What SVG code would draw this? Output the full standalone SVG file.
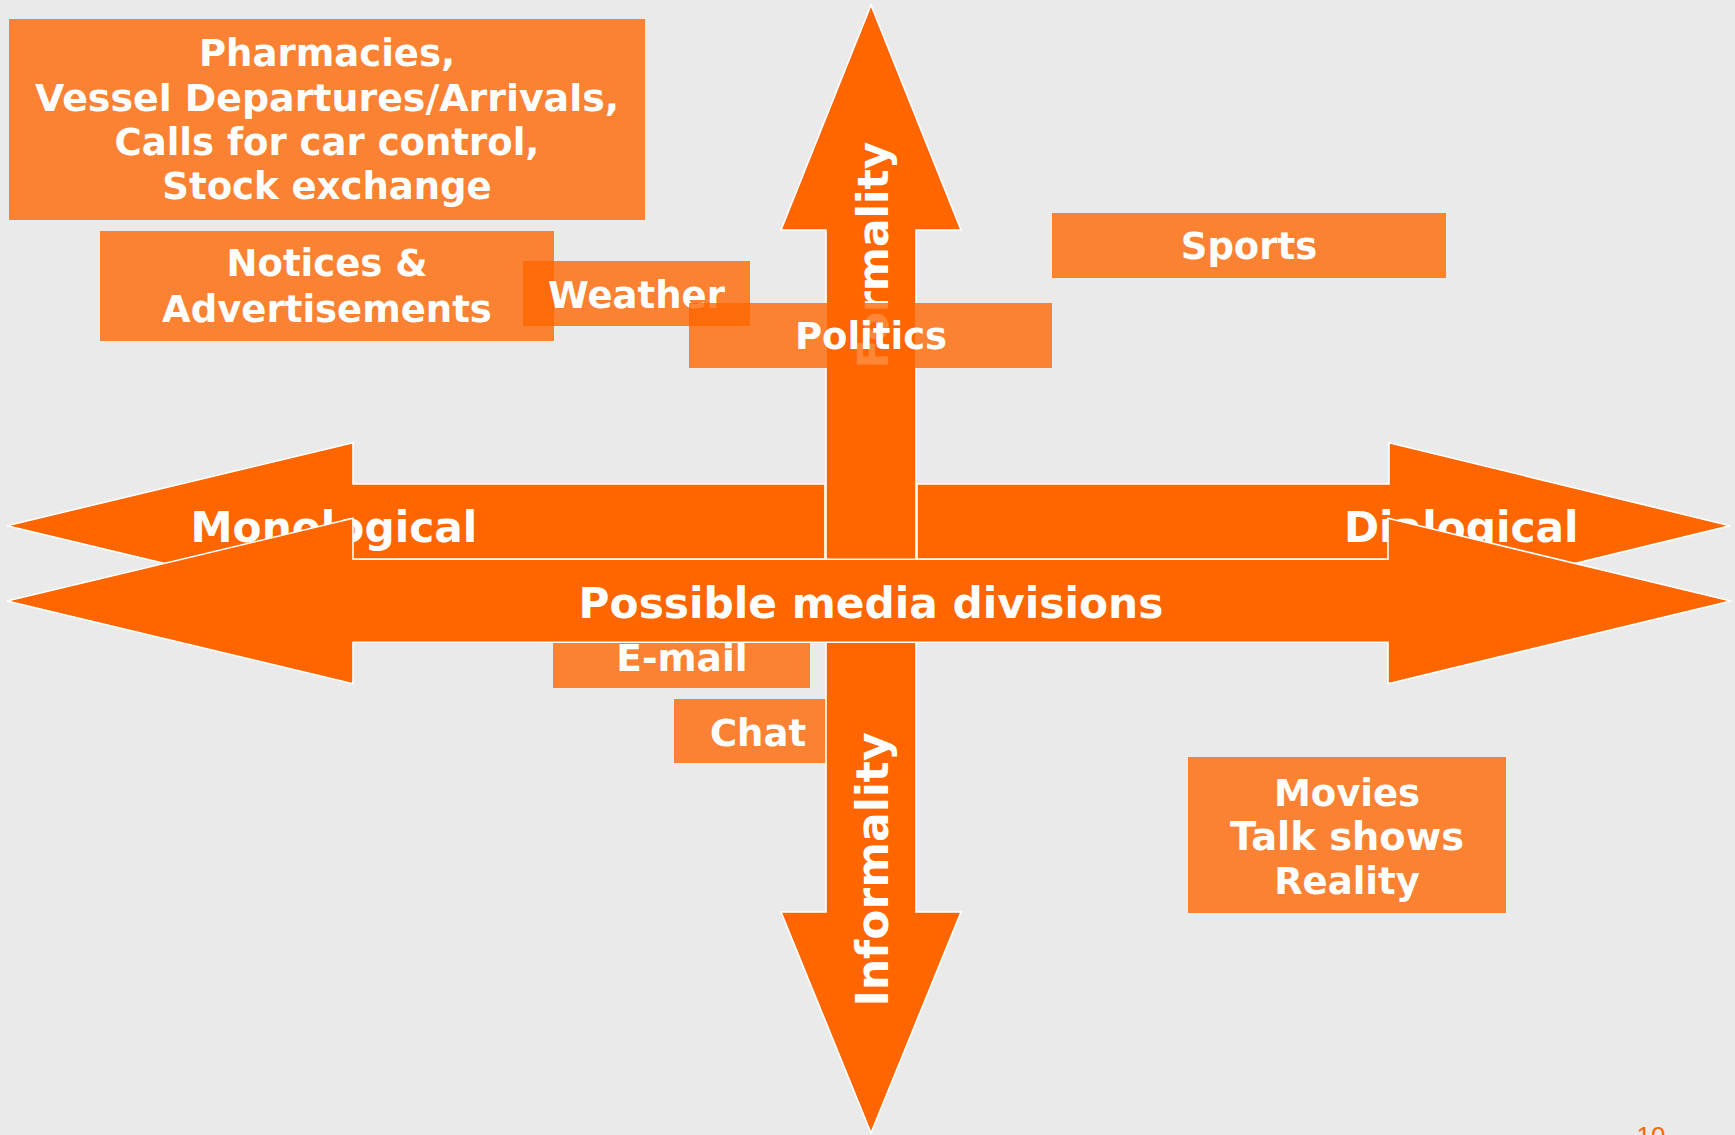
<svg xmlns="http://www.w3.org/2000/svg" width="1735" height="1135" viewBox="0 0 1735 1135">
<style>
.box{fill:#FF6600;fill-opacity:0.79}
.arrow{fill:#FF6600;stroke:#FFFFFF;stroke-width:1.6;stroke-linejoin:miter}
.t{font-family:"DejaVu Sans","Verdana",sans-serif;font-weight:bold;fill:#FFFFFF;text-anchor:middle;font-size:37px}
.big{font-size:42.3px}
.pg{font-family:"Liberation Sans",Arial,sans-serif;fill:#FF6600;font-size:26px;text-anchor:middle}
</style>
<rect x="0" y="0" width="1735" height="1135" fill="#EAEAEA"/>

<g id="node-pharmacies">
<rect class="box" x="9" y="19" width="636" height="201"/>
<text class="t" x="327" y="66">Pharmacies,</text>
<text class="t" x="327" y="110.5" style="font-size:37.9px">Vessel Departures/Arrivals,</text>
<text class="t" x="327" y="155">Calls for car control,</text>
<text class="t" x="327" y="199">Stock exchange</text>
</g>

<g id="node-notices">
<rect class="box" x="100" y="231" width="454" height="110"/>
<text class="t" x="327" y="276">Notices &amp;</text>
<text class="t" x="327" y="322">Advertisements</text>
</g>

<g id="node-weather">
<rect class="box" x="523" y="261" width="227" height="65"/>
<text class="t" x="636.5" y="308">Weather</text>
</g>

<g id="node-sports">
<rect class="box" x="1052" y="213" width="394" height="65"/>
<text class="t" x="1249" y="259">Sports</text>
</g>

<g id="node-email">
<rect class="box" x="553" y="630" width="257" height="58"/>
<text class="t" x="682" y="671" style="font-size:37.5px">E-mail</text>
</g>

<g id="node-chat">
<rect class="box" x="674" y="699" width="168" height="64"/>
<text class="t" x="758" y="746">Chat</text>
</g>

<g id="node-movies">
<rect class="box" x="1188" y="757" width="318" height="156"/>
<text class="t" x="1347" y="806">Movies</text>
<text class="t" x="1347" y="850" style="font-size:38.4px">Talk shows</text>
<text class="t" x="1347" y="894">Reality</text>
</g>

<g id="connectors">
<g id="arrow-monological">
<polygon class="arrow" points="7,525.7 353,442.7 353,484 825,484 825,559.3 353,559.3 353,608.7"/>
<text class="t big" x="190.5" y="542" style="text-anchor:start">Monological</text>
</g>
<g id="arrow-dialogical">
<polygon class="arrow" points="917,484 1389,484 1389,442.7 1730,525.7 1389,608.7 1389,559.3 917,559.3"/>
<text class="t big" x="1344" y="542" style="text-anchor:start">Dialogical</text>
</g>
<g id="arrow-formality">
<polygon class="arrow" points="871,5 961,230 916,230 916,912 961,912 871,1133 781,912 826,912 826,230 781,230"/>
<text class="t big" transform="translate(888,255) rotate(-90)" x="0" y="0">Formality</text>
<text class="t big" transform="translate(888,869.5) rotate(-90)" x="0" y="0" style="font-size:44px">Informality</text>
</g>
</g>

<g id="node-politics">
<rect class="box" x="689" y="303" width="363" height="65"/>
<text class="t" x="871" y="349">Politics</text>
</g>

<g id="arrow-media">
<polygon class="arrow" points="7,601 353,518.3 353,559.3 1388,559.3 1388,518.3 1731,601 1388,683.7 1388,642.3 353,642.3 353,683.7"/>
<text class="t big" x="871" y="618">Possible media divisions</text>
</g>

<text class="pg" x="1651" y="1145">10</text>
</svg>
